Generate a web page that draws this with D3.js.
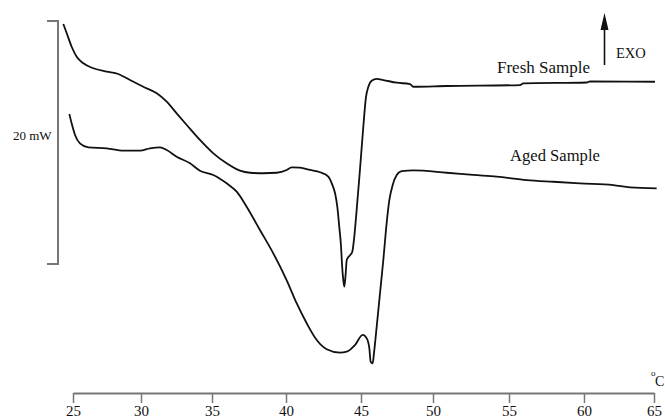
<!DOCTYPE html>
<html lang="en">
  <head>
    <meta charset="utf-8">
    <style>
      body { margin: 0; background: #fff; }
      svg { display: block; }
      text { font-family: "Liberation Serif", "Times New Roman", serif; fill: #111; }
    </style>
  </head>
  <body>
    <script type="text/javascript" src="https://d3js.org/d3.v7.min.js"></script>
    <script>
      var width = 665,
        height = 418;

      // tick labels on the temperature axis
      var tempTicks = [25, 30, 35, 40, 45, 50, 55, 60, 65];

      // fresh sample: temperature (C) and heat flow (mW, arbitrary offset)
      var freshTemp = [24.29, 24.54, 24.90, 25.27, 25.76, 26.49, 27.48, 28.33, 29.19, 30.16,
        31.11, 31.81, 32.51, 33.22, 34.15, 35.09, 35.99, 36.89, 37.57, 38.47,
        39.37, 40.05, 40.38, 40.93, 41.60, 42.27, 42.82, 43.05, 43.27, 43.42,
        43.55, 43.67, 43.73, 43.82, 43.89, 43.98, 44.05, 44.22, 44.42, 44.53,
        44.71, 44.93, 45.16, 45.35, 45.51, 45.74, 46.09, 46.55, 47.48, 48.40,
        48.63, 50.90, 55.73, 55.95, 60.19, 60.43, 65.07];
      var freshMW = [19.75, 18.99, 17.88, 17.06, 16.52, 16.11, 15.83, 15.64, 15.14, 14.59,
        14.05, 13.36, 12.40, 11.44, 10.21, 9.11, 8.29, 7.68, 7.51, 7.47,
        7.51, 7.74, 7.96, 7.93, 7.74, 7.55, 7.19, 6.64, 5.82, 4.72,
        3.07, 1.42, 0.06, -1.32, -1.87, -0.77, 0.33, 0.66, 1.01, 1.98,
        4.44, 7.74, 11.30, 13.77, 14.59, 15.09, 15.23, 15.14, 14.92, 14.81,
        14.59, 14.65, 14.73, 14.86, 14.94, 15.02, 15.00];

      // aged sample
      var agedTemp = [24.73, 24.90, 25.15, 25.51, 26.13, 27.48, 28.70, 29.93, 30.63, 31.34,
        31.81, 32.51, 33.45, 34.15, 35.09, 35.99, 36.67, 37.34, 38.24, 39.14,
        40.04, 40.71, 41.38, 42.05, 42.71, 43.60, 44.05, 44.60, 45.12, 45.40,
        45.58, 45.67, 45.81, 45.90, 46.09, 46.32, 46.55, 46.78, 46.97, 47.20,
        47.48, 47.83, 48.63, 50.90, 52.65, 54.19, 56.18, 57.95, 59.73, 62.09,
        63.29, 65.19];
      var agedMW = [12.35, 11.58, 10.62, 9.93, 9.60, 9.52, 9.33, 9.33, 9.52, 9.60,
        9.38, 8.83, 8.29, 7.68, 7.33, 6.64, 5.95, 4.72, 2.80, 0.88,
        -1.32, -3.23, -4.88, -6.26, -7.02, -7.30, -7.22, -6.67, -5.84, -6.12,
        -6.94, -8.04, -8.17, -7.35, -5.16, -2.41, 0.33, 3.35, 5.27, 6.50,
        7.33, 7.65, 7.70, 7.51, 7.33, 7.19, 6.91, 6.77, 6.64, 6.50,
        6.31, 6.23];

      var svg = d3.select("body")
        .append("svg")
        .attr("width", width)
        .attr("height", height);

      svg.append("rect").attr("width", width).attr("height", height).attr("fill", "#fff");

      // the scanned axis is not evenly spaced, so use a piecewise scale
      var x = d3.scaleLinear()
        .domain(tempTicks)
        .range([73, 141, 212, 286, 361, 433, 509, 584, 654]);

      // scale bar of 20 mW
      var y = d3.scaleLinear()
        .domain([0, 20])
        .range([264, 21]);

      // x axis
      var xAxis = svg.append("g")
        .attr("transform", "translate(0,393)")
        .call(d3.axisBottom(x).tickValues(tempTicks).tickSize(10).tickSizeOuter(0).tickPadding(2));
      xAxis.select(".domain").attr("stroke", "#777").attr("stroke-width", 2);
      xAxis.selectAll(".tick line").attr("stroke", "#777").attr("stroke-width", 1.5);
      xAxis.selectAll(".tick text")
        .attr("font-size", 15)
        .attr("font-family", "Liberation Serif")
        .attr("fill", "#111");

      // degree C unit
      svg.append("text").attr("x", 651).attr("y", 376).attr("font-size", 9).text("o");
      svg.append("text").attr("x", 655).attr("y", 386).attr("font-size", 14).text("C");

      // 20 mW bracket
      svg.append("path")
        .attr("d", "M" + (x(25) - 26) + "," + y(20) + "H" + (x(25) - 15) + "V" + y(0) + "H" + (x(25) - 26))
        .attr("fill", "none")
        .attr("stroke", "#777")
        .attr("stroke-width", 2);
      svg.append("text")
        .attr("x", 13)
        .attr("y", 140)
        .attr("font-size", 13)
        .text("20 mW");

      // curves
      var line = d3.line()
        .curve(d3.curveMonotoneX)
        .x(function (d) { return x(d[0]); })
        .y(function (d) { return y(d[1]); });

      var fresh = d3.zip(freshTemp, freshMW);
      var aged = d3.zip(agedTemp, agedMW);

      svg.append("path")
        .attr("d", line(fresh))
        .attr("fill", "none")
        .attr("stroke", "#111")
        .attr("stroke-width", 1.8);
      svg.append("path")
        .attr("d", line(aged))
        .attr("fill", "none")
        .attr("stroke", "#111")
        .attr("stroke-width", 1.8);

      // labels
      svg.append("text").attr("x", 497).attr("y", 73).attr("font-size", 17).text("Fresh Sample");
      svg.append("text").attr("x", 510).attr("y", 161).attr("font-size", 16.6).text("Aged Sample");

      // EXO arrow
      svg.append("line")
        .attr("x1", 604.5).attr("y1", 65)
        .attr("x2", 604.5).attr("y2", 28)
        .attr("stroke", "#111")
        .attr("stroke-width", 1.6);
      svg.append("path")
        .attr("d", "M604.5,13L600.5,30L608.5,30Z")
        .attr("fill", "#111");
      svg.append("text").attr("x", 616).attr("y", 58).attr("font-size", 14.5).text("EXO");
    </script>
  </body>
</html>
